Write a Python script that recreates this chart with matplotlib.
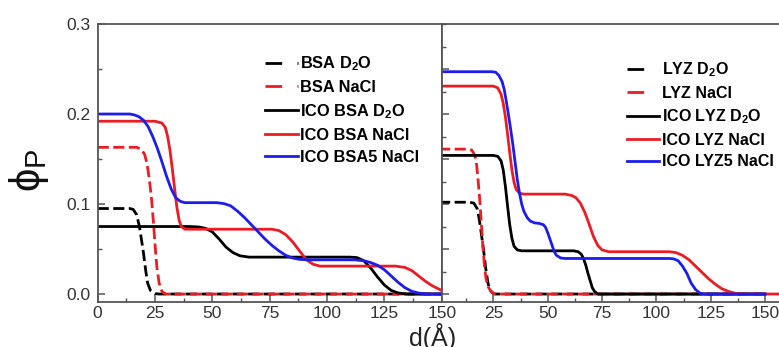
import matplotlib.pyplot as plt
from matplotlib.lines import Line2D
from matplotlib.ticker import MultipleLocator, FormatStrFormatter

plt.rcParams['font.family'] = ['Liberation Sans', 'DejaVu Sans']
plt.rcParams['mathtext.fontset'] = 'custom'
plt.rcParams['mathtext.rm'] = 'Liberation Sans'
plt.rcParams['mathtext.bf'] = 'Liberation Sans:bold'
plt.rcParams['mathtext.it'] = 'Liberation Sans:italic'

# ---- left panel: BSA ----
bsa_d2o_x = [0, 14, 15.5, 17, 18.2, 19, 20, 21, 21.8, 23, 25, 26.5, 150]
bsa_d2o_y = [0.095, 0.095, 0.094, 0.088, 0.075, 0.062, 0.045, 0.025, 0.012, 0.004, 0.0005, 0, 0]

bsa_nacl_x = [0, 17, 19, 20.5, 21.5, 22.5, 23.5, 24.3, 25, 25.8, 26.8, 28, 29.5, 150]
bsa_nacl_y = [0.163, 0.163, 0.161, 0.155, 0.145, 0.128, 0.105, 0.080, 0.055, 0.030, 0.012, 0.003, 0, 0]

ico_bsa_d2o_x = [0, 40, 44, 47, 50, 53, 56, 59, 62, 66, 110, 113, 116, 119, 122, 125, 128, 131, 135, 150]
ico_bsa_d2o_y = [0.075, 0.075, 0.0745, 0.073, 0.069, 0.061, 0.052, 0.046, 0.0425, 0.041, 0.041, 0.0405,
                 0.037, 0.029, 0.019, 0.010, 0.004, 0.0012, 0, 0]

ico_bsa_nacl_x = [0, 25, 28, 29.5, 30.5, 31.5, 32.5, 33.5, 34.5, 35.5, 36.5, 38, 76, 79, 82, 85, 88, 91, 94,
                  97, 130, 134, 137, 140, 143, 146, 150]
ico_bsa_nacl_y = [0.192, 0.192, 0.190, 0.185, 0.175, 0.160, 0.140, 0.118, 0.097, 0.082, 0.075, 0.072, 0.072,
                  0.0705, 0.066, 0.058, 0.048, 0.038, 0.033, 0.031, 0.031, 0.0295, 0.026, 0.020, 0.014, 0.009, 0.004]

ico_bsa5_nacl_x = [0, 14, 16, 18, 20, 22, 24, 26, 28, 30, 32, 34, 36, 38, 52, 55, 58, 61, 64, 67, 70, 73, 76,
                   79, 82, 85, 88, 92, 112, 116, 119, 122, 125, 128, 131, 134, 137, 140, 144, 150]
ico_bsa5_nacl_y = [0.200, 0.200, 0.199, 0.197, 0.193, 0.186, 0.175, 0.162, 0.147, 0.131, 0.117, 0.107, 0.103,
                   0.1015, 0.1015, 0.1005, 0.098, 0.092, 0.085, 0.077, 0.069, 0.061, 0.054, 0.048, 0.043, 0.040,
                   0.0385, 0.038, 0.038, 0.037, 0.035, 0.032, 0.027, 0.020, 0.013, 0.007, 0.003, 0.001, 0, 0]

# ---- right panel: LYZ ----
lyz_d2o_x = [0, 14, 16, 17.5, 18.5, 19.5, 20.5, 21.5, 22.5, 23.5, 25, 26, 150]
lyz_d2o_y = [0.102, 0.102, 0.101, 0.095, 0.083, 0.066, 0.048, 0.028, 0.012, 0.004, 0.0005, 0, 0]

lyz_nacl_x = [0, 13, 15, 16.5, 17.3, 18, 18.7, 19.4, 20.1, 20.8, 21.6, 22.6, 23.8, 25.5, 150]
lyz_nacl_y = [0.161, 0.161, 0.160, 0.154, 0.143, 0.125, 0.105, 0.080, 0.055, 0.033, 0.017, 0.008, 0.003, 0, 0]

ico_lyz_d2o_x = [0, 25, 27, 28.5, 29.5, 30.5, 31.5, 32.5, 33.5, 34.5, 36, 38, 62, 64, 65.5, 66.5, 67.5, 68.5,
                 69.5, 70.5, 71.5, 73, 150]
ico_lyz_d2o_y = [0.154, 0.154, 0.153, 0.148, 0.138, 0.120, 0.098, 0.077, 0.062, 0.053, 0.049, 0.048, 0.048,
                 0.047, 0.044, 0.039, 0.032, 0.023, 0.015, 0.007, 0.003, 0, 0]

ico_lyz_nacl_x = [0, 25, 27, 28.5, 29.5, 30.5, 31.5, 32.5, 33.5, 34.5, 35.5, 37, 39, 58, 61, 63, 65, 67, 69,
                  71, 73, 75, 78, 106, 109, 112, 115, 118, 121, 124, 127, 130, 133, 136, 139, 160]
ico_lyz_nacl_y = [0.231, 0.231, 0.229, 0.222, 0.212, 0.197, 0.178, 0.157, 0.138, 0.124, 0.116, 0.112, 0.111,
                  0.111, 0.1095, 0.107, 0.101, 0.091, 0.078, 0.064, 0.054, 0.049, 0.047, 0.047, 0.046, 0.043,
                  0.038, 0.031, 0.024, 0.017, 0.011, 0.006, 0.003, 0.001, 0, 0]

ico_lyz5_nacl_x = [0, 24, 26, 27.5, 29, 30, 31, 32, 33, 34, 35, 36, 37, 38, 39, 40.5, 42, 44, 46, 48, 49, 50,
                   51, 52, 53, 54, 56, 58, 106, 108, 110, 112, 114, 116, 118, 120, 122, 150]
ico_lyz5_nacl_y = [0.247, 0.247, 0.2465, 0.243, 0.236, 0.227, 0.213, 0.198, 0.182, 0.165, 0.146, 0.127, 0.112,
                   0.100, 0.092, 0.085, 0.081, 0.079, 0.0785, 0.077, 0.074, 0.068, 0.061, 0.054, 0.047, 0.043,
                   0.040, 0.0395, 0.0395, 0.039, 0.037, 0.031, 0.023, 0.012, 0.005, 0.001, 0, 0]

bsa_labels = ['BSA $\\mathbf{D_2O}$', 'BSA NaCl', 'ICO BSA $\\mathbf{D_2O}$', 'ICO BSA NaCl', 'ICO BSA5 NaCl']
lyz_labels = ['LYZ $\\mathbf{D_2O}$', 'LYZ NaCl', 'ICO LYZ $\\mathbf{D_2O}$', 'ICO LYZ NaCl', 'ICO LYZ5 NaCl']

black = '#000000'
red = '#ec1c24'
blue = '#1c1ced'
lw = 2.0
dash = (0, (4, 1.6))

fig = plt.figure(figsize=(7.79, 3.47), dpi=100)
ax1 = fig.add_axes([0.1254, 0.1288, 0.4416, 0.802])
ax2 = fig.add_axes([0.567, 0.1288, 0.433, 0.802])

ax1.plot(bsa_d2o_x, bsa_d2o_y, color=black, lw=lw, linestyle=dash)
ax1.plot(bsa_nacl_x, bsa_nacl_y, color=red, lw=lw, linestyle=dash)
ax1.plot(ico_bsa_d2o_x, ico_bsa_d2o_y, color=black, lw=lw)
ax1.plot(ico_bsa_nacl_x, ico_bsa_nacl_y, color=red, lw=lw)
ax1.plot(ico_bsa5_nacl_x, ico_bsa5_nacl_y, color=blue, lw=lw)

ax2.plot(lyz_d2o_x, lyz_d2o_y, color=black, lw=lw, linestyle=dash)
ax2.plot(lyz_nacl_x, lyz_nacl_y, color=red, lw=lw, linestyle=dash)
ax2.plot(ico_lyz_d2o_x, ico_lyz_d2o_y, color=black, lw=lw)
ax2.plot(ico_lyz_nacl_x, ico_lyz_nacl_y, color=red, lw=lw)
ax2.plot(ico_lyz5_nacl_x, ico_lyz5_nacl_y, color=blue, lw=lw)

for ax in (ax1, ax2):
    ax.set_ylim(-0.0092, 0.3)
    for s in ax.spines.values():
        s.set_color('#555555')
        s.set_linewidth(1.3)
    ax.tick_params(which='both', direction='in', color='#555555', labelcolor='#333333',
                   labelsize=12.5, top=False, right=False)
    ax.tick_params(which='major', length=5, width=1.1)
    ax.tick_params(which='minor', length=3, width=1.0)
    ax.xaxis.set_minor_locator(MultipleLocator(12.5))

ax1.set_xlim(0, 150)
ax1.set_xticks([0, 25, 50, 75, 100, 125, 150])
ax1.set_yticks([0.0, 0.1, 0.2, 0.3])
ax1.yaxis.set_minor_locator(MultipleLocator(0.05))
ax1.yaxis.set_major_formatter(FormatStrFormatter('%.1f'))
ax1.tick_params(axis='x', pad=3)
ax1.tick_params(axis='y', pad=5)

ax2.set_xlim(1.2, 156.4)
ax2.set_xticks([25, 50, 75, 100, 125, 150])
ax2.set_yticks([0.0, 0.05, 0.1, 0.15, 0.2, 0.25])
ax2.yaxis.set_minor_locator(MultipleLocator(0.025))
ax2.tick_params(axis='y', labelleft=False)
ax2.tick_params(axis='x', pad=3)
ax2.spines['right'].set_visible(False)

leg_dash = (0, (6, 5.5, 1, 5))
handles1 = [Line2D([], [], color=black, lw=lw, linestyle=leg_dash),
            Line2D([], [], color=red, lw=lw, linestyle=leg_dash),
            Line2D([], [], color=black, lw=lw),
            Line2D([], [], color=red, lw=lw),
            Line2D([], [], color=blue, lw=lw)]
handles2 = [Line2D([], [], color=black, lw=lw, linestyle=leg_dash),
            Line2D([], [], color=red, lw=lw, linestyle=leg_dash),
            Line2D([], [], color=black, lw=lw),
            Line2D([], [], color=red, lw=lw),
            Line2D([], [], color=blue, lw=lw)]

ax1.legend(handles1, bsa_labels, loc='upper left', bbox_to_anchor=(0.486, 0.89), frameon=False,
           borderpad=0, borderaxespad=0, handlelength=2.0, handletextpad=0.15, labelspacing=0.42,
           prop={'weight': 'bold', 'size': 11.8})
ax2.legend(handles2, lyz_labels, loc='upper left', bbox_to_anchor=(0.55, 0.87), frameon=False,
           borderpad=0, borderaxespad=0, handlelength=2.0, handletextpad=0.15, labelspacing=0.42,
           prop={'weight': 'bold', 'size': 11.5})

fig.text(433 / 779, 1 - 323 / 347, 'd(Å)', ha='center', va='top', fontsize=18, color='#222222')
fig.text(29 / 779, 1 - 170 / 347, '$\\mathrm{\\phi}_\\mathrm{P}$', ha='center', va='center', rotation=90,
         fontsize=30, color='#111111')

fig.savefig('out.png', dpi=100)
